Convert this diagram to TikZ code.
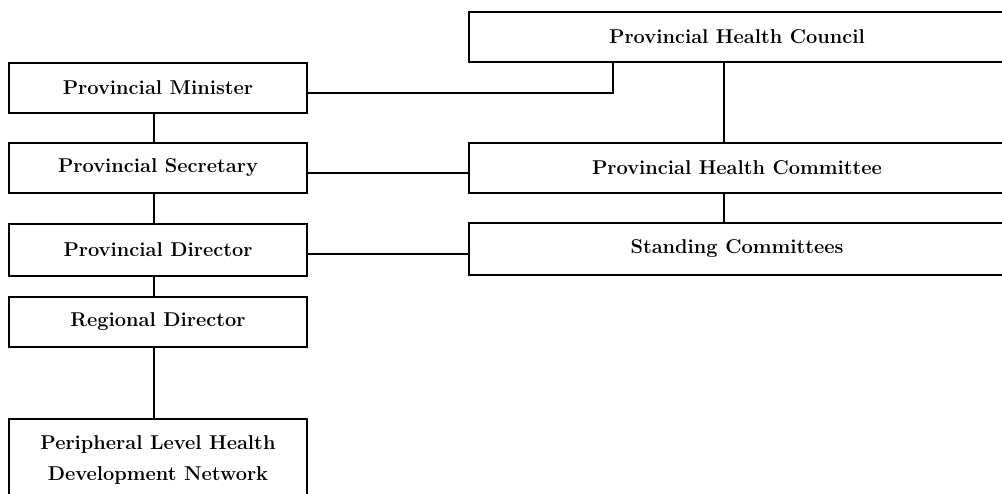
\documentclass[tikz,border=0pt]{standalone}
\usepackage{fontspec}
\begin{document}
\begin{tikzpicture}[x=1pt,y=-1pt,
  orgbox/.style={draw=black,line width=1.6pt,inner sep=0pt,
    font=\fontsize{20}{31}\selectfont\bfseries,align=center},
  link/.style={draw=black,line width=1.6pt}]
\useasboundingbox (0,0) rectangle (1002,494);
\fill[white] (0,0) rectangle (1002,494);

% left column
\node[orgbox,minimum width=298pt,minimum height=50pt] (min) at (158,88) {Provincial Minister};
\node[orgbox,minimum width=298pt,minimum height=50pt] (sec) at (158,168) {Provincial Secretary};
\node[orgbox,minimum width=298pt,minimum height=52pt] (dir) at (158,250) {Provincial Director};
\node[orgbox,minimum width=298pt,minimum height=50pt] (reg) at (158,322) {Regional Director};
\node[orgbox,minimum width=298pt,minimum height=82pt] (per) at (158,460) {Peripheral Level Health\\Development Network};

% right column
\node[orgbox,minimum width=536pt,minimum height=50pt] (cou) at (737,37) {Provincial Health Council};
\node[orgbox,minimum width=536pt,minimum height=50pt] (com) at (737,168) {Provincial Health Committee};
\node[orgbox,minimum width=536pt,minimum height=52pt] (sta) at (737,249) {Standing Committees};

% coordinates for elbows
\coordinate (e1) at (613,93);
\coordinate (e2) at (613,62);

% vertical chain on the left
\draw[link] (154,113) -- (154,143);
\draw[link] (154,193) -- (154,224);
\draw[link] (154,276) -- (154,297);
\draw[link] (154,347) -- (154,419);

% horizontal links
\draw[link] (min.east |- e1) -- (e1) -- (e2);
\draw[link] (sec.east |- 0,173) -- (com.west |- 0,173);
\draw[link] (dir.east |- 0,254) -- (sta.west |- 0,254);

% vertical links on the right
\draw[link] (724,62) -- (724,143);
\draw[link] (724,193) -- (724,223);
\end{tikzpicture}
\end{document}
